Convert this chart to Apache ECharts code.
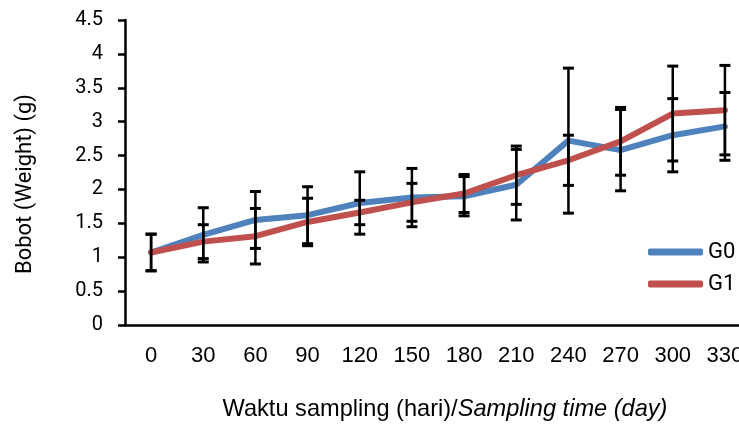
<!DOCTYPE html>
<html>
<head>
<meta charset="utf-8">
<script src="https://cdn.jsdelivr.net/npm/echarts@6/dist/echarts.min.js"></script>
<style>
html,body{margin:0;padding:0;background:#fff;}
#chart{width:739px;height:427px;}
</style>
</head>
<body>
<div id="chart"></div>
<script>
var days = ['0','30','60','90','120','150','180','210','240','270','300','330'];
var g0 = [1.07, 1.33, 1.55, 1.62, 1.80, 1.88, 1.90, 2.07, 2.72, 2.58, 2.80, 2.93];
var g0Err = [0.27, 0.40, 0.42, 0.42, 0.46, 0.43, 0.29, 0.52, 1.07, 0.60, 0.54, 0.50];
var g1 = [1.07, 1.23, 1.31, 1.52, 1.66, 1.81, 1.94, 2.21, 2.43, 2.71, 3.12, 3.17];
var g1Err = [0.27, 0.25, 0.41, 0.35, 0.18, 0.28, 0.28, 0.43, 0.37, 0.50, 0.70, 0.66];
var yTicks = ['0','0.5','1','1.5','2','2.5','3','3.5','4','4.5'];

function errData(vals, errs){
  return vals.map(function(v,i){ return [i, v - errs[i], v + errs[i]]; });
}
function errRender(params, api){
  var x = api.value(0);
  var lo = api.coord([x, api.value(1)]);
  var hi = api.coord([x, api.value(2)]);
  var hw = 5.5;
  var st = {stroke:'#000', lineWidth:2.5};
  return {type:'group', children:[
    {type:'line', shape:{x1:lo[0], y1:lo[1], x2:hi[0], y2:hi[1]}, style:st},
    {type:'line', shape:{x1:hi[0]-hw, y1:hi[1], x2:hi[0]+hw, y2:hi[1]}, style:{stroke:'#000', lineWidth:3}},
    {type:'line', shape:{x1:lo[0]-hw, y1:lo[1], x2:lo[0]+hw, y2:lo[1]}, style:{stroke:'#000', lineWidth:3}}
  ]};
}

var chart = echarts.init(document.getElementById('chart'), null, {renderer:'canvas'});
chart.setOption({
  animation:false,
  backgroundColor:'#fff',
  grid:{left:125, top:20, width:626, height:305, containLabel:false, outerBoundsMode:'none'},
  legend:{
    orient:'vertical', left:648, top:241, itemGap:10, padding:0,
    itemWidth:55, itemHeight:7, icon:'roundRect',
    textStyle:{fontFamily:'Roboto', fontSize:22, color:'#000', lineHeight:22, padding:[0,0,0,0]},
    data:['G0','G1']
  },
  xAxis:{
    type:'category', data:days, boundaryGap:true,
    axisLine:{lineStyle:{color:'#000', width:2.5}},
    axisTick:{show:false},
    axisLabel:{fontFamily:'Liberation Sans', fontSize:22, color:'#000', margin:20, interval:0, hideOverlap:false}
  },
  yAxis:{
    type:'value', min:0, max:4.5, interval:0.5,
    axisLine:{show:true, lineStyle:{color:'#000', width:2.5}},
    axisTick:{show:true, length:7, lineStyle:{color:'#000', width:2.5}},
    splitLine:{show:false},
    axisLabel:{fontFamily:'Roboto', fontSize:20, color:'#000', margin:22,
      formatter:function(v){ var i = Math.round(v/0.5); return yTicks[i]; }}
  },
  graphic:[
    {type:'text', x:25, y:184, rotation:Math.PI/2,
      style:{text:'Bobot (Weight) (g)', font:'22px Roboto', fill:'#000', align:'center', verticalAlign:'middle'}},
    {type:'text', x:445, y:409,
      style:{text:'{n|Waktu sampling (hari)/}{i|Sampling time (day)}', align:'center', verticalAlign:'middle',
        rich:{n:{fontFamily:'Liberation Sans', fontSize:23.6, fill:'#000'}, i:{fontFamily:'Liberation Sans', fontSize:23.6, fontStyle:'italic', fill:'#000'}}}}
  ],
  series:[
    {name:'G0', type:'line', data:g0, symbol:'none', z:2,
      lineStyle:{color:'#4F81BD', width:6, cap:'round', join:'round'}, itemStyle:{color:'#4F81BD'}},
    {name:'G1', type:'line', data:g1, symbol:'none', z:3,
      lineStyle:{color:'#C0504D', width:6, cap:'round', join:'round'}, itemStyle:{color:'#C0504D'}},
    {name:'G0err', type:'custom', data:errData(g0, g0Err), renderItem:errRender, z:4, silent:true},
    {name:'G1err', type:'custom', data:errData(g1, g1Err), renderItem:errRender, z:4, silent:true}
  ]
});
</script>
</body>
</html>
